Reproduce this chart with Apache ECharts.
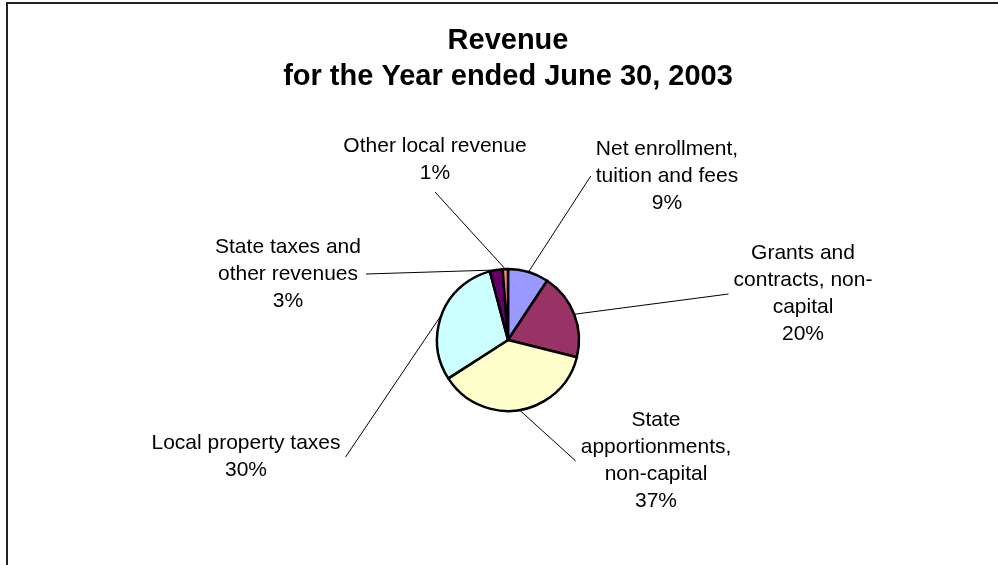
<!DOCTYPE html>
<html>
<head>
<meta charset="utf-8">
<title>Revenue for the Year ended June 30, 2003</title>
<script src="https://cdn.jsdelivr.net/npm/echarts@6/dist/echarts.min.js"></script>
<style>
  html, body { margin: 0; padding: 0; background: #fff; }
  #main { width: 998px; height: 565px; }
</style>
</head>
<body>
<div id="main"></div>
<script>
  // slice names (with Excel-style line breaks) and shares
  const categories = [
    "Net enrollment,\ntuition and fees",
    "Grants and\ncontracts, non-\ncapital",
    "State\napportionments,\nnon-capital",
    "Local property taxes",
    "State taxes and\nother revenues",
    "Other local revenue"
  ];
  const values = [9.3, 19.6, 37.0, 30.0, 2.9, 1.2];
  const colors = ["#9999FF", "#993366", "#FFFFCC", "#CCFFFF", "#660066", "#FF8080"];

  // where each label block sits (centre of the text block)
  const labelPos = [
    [667, 176],
    [803, 294],
    [656, 461],
    [246, 457],
    [288, 274],
    [435, 160]
  ];

  var chart = echarts.init(document.getElementById("main"));

  function layoutLabel(params) {
    var i = params.dataIndex;
    var cx = labelPos[i][0], cy = labelPos[i][1];
    var w = params.labelRect.width, h = params.labelRect.height;
    var out = { x: cx, y: cy, align: "center", verticalAlign: "middle" };
    var pts = params.labelLinePoints;
    if (pts && pts.length) {
      // straight leader from the slice's mid-angle edge to the nearest side of the label
      var a = pts[0];
      var gap = 5;
      var sides = [
        [cx - w / 2 - gap, cy],
        [cx + w / 2 + gap, cy],
        [cx, cy - h / 2 - gap],
        [cx, cy + h / 2 + gap]
      ];
      var best = sides[0], bd = Infinity;
      sides.forEach(function (s) {
        var d = Math.hypot(s[0] - a[0], s[1] - a[1]);
        if (d < bd) { bd = d; best = s; }
      });
      out.labelLinePoints = [[a[0], a[1]], best];
    }
    return out;
  }

  var option = {
    animation: false,
    backgroundColor: "#fff",
    title: {
      text: "Revenue\nfor the Year ended June 30, 2003",
      left: 508,
      top: 23,
      textAlign: "center",
      padding: 0,
      textStyle: {
        fontFamily: "Liberation Sans, Arial, sans-serif",
        fontSize: 29,
        fontWeight: "bold",
        lineHeight: 36,
        color: "#000"
      }
    },
    graphic: [{
      type: "rect",
      shape: { x: 7, y: 3, width: 1100, height: 700 },
      style: { fill: null, stroke: "#222", lineWidth: 2 },
      silent: true
    }],
    series: [{
      type: "pie",
      center: [508, 340],
      radius: 71,
      startAngle: 90,
      clockwise: true,
      avoidLabelOverlap: false,
      data: categories.map(function (name, i) {
        return { name: name, value: values[i], itemStyle: { color: colors[i] } };
      }),
      itemStyle: { borderColor: "#000", borderWidth: 2.5 },
      label: {
        show: true,
        position: "outside",
        formatter: function (p) { return p.name + "\n" + Math.round(p.percent) + "%"; },
        fontFamily: "Liberation Sans, Arial, sans-serif",
        fontSize: 21,
        lineHeight: 27,
        color: "#000"
      },
      labelLine: {
        show: true,
        length: 10,
        length2: 0,
        lineStyle: { color: "#000", width: 1 }
      },
      labelLayout: layoutLabel,
      emphasis: { disabled: true }
    }]
  };

  chart.setOption(option);
</script>
</body>
</html>
